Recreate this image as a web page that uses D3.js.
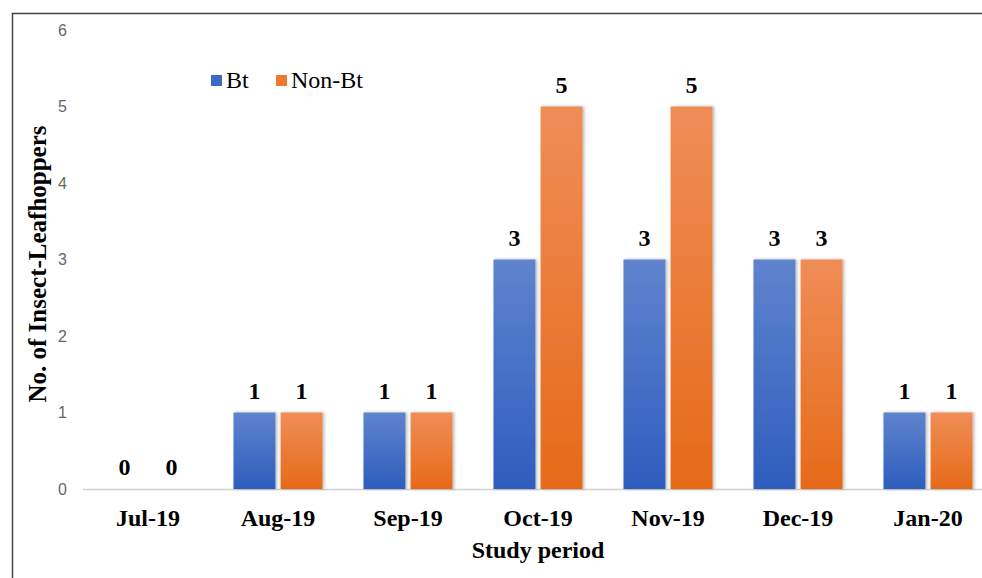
<!DOCTYPE html>
<html><head><meta charset="utf-8">
<script src="https://cdn.jsdelivr.net/npm/d3@7"></script>
<style>body{margin:0;background:#fff}svg{display:block}
.serif{font-family:"Liberation Serif","Times New Roman",serif}
.sans{font-family:"Liberation Sans",Arial,sans-serif}
</style>
</head><body>
<script>
const categories = ["Jul-19","Aug-19","Sep-19","Oct-19","Nov-19","Dec-19","Jan-20"];
const seriesNames = ["Bt","Non-Bt"];
const btValues = [0,1,1,3,3,3,1];
const nonBtValues = [0,1,1,5,5,3,1];
const yTicks = [0,1,2,3,4,5,6];

const W=982,H=578;
const svg=d3.select("body").append("svg").attr("width",W).attr("height",H);
const defs=svg.append("defs");
function grad(id,top,bot){
  const g=defs.append("linearGradient").attr("id",id).attr("x1",0).attr("y1",0).attr("x2",0).attr("y2",1);
  g.append("stop").attr("offset","0%").attr("stop-color",top);
  g.append("stop").attr("offset","100%").attr("stop-color",bot);
}
grad("gBt","#5f83cd","#2e5dbd");
grad("gNon","#f08d57","#e66a18");
const f=defs.append("filter").attr("id","sh").attr("x","-20%").attr("y","-20%").attr("width","150%").attr("height","150%");
f.append("feDropShadow").attr("dx",1.5).attr("dy",0).attr("stdDeviation",1.5).attr("flood-color","#000").attr("flood-opacity",0.3);

// frame
svg.append("path").attr("d","M12.5,600 V13.5 H990").attr("fill","none").attr("stroke","#444").attr("stroke-width",1.5);

const x=d3.scaleBand().domain(categories).range([83,993]).paddingInner(0).paddingOuter(0);
const y=d3.scaleLinear().domain([0,6]).range([489,30]);
const x1=d3.scaleBand().domain(seriesNames).range([0,89]).paddingInner(0.11);
const groupOffset=(x.bandwidth()-89)/2;

// y tick labels
svg.append("g").selectAll("text").data(yTicks).join("text").attr("class","sans")
  .attr("x",67).attr("y",d=>y(d)).attr("dy","0.35em").attr("text-anchor","end")
  .attr("font-size",16).attr("fill","#666")
  .text(d=>d);

// baseline
svg.append("line").attr("x1",83).attr("x2",993).attr("y1",y(0)+0.5).attr("y2",y(0)+0.5).attr("stroke","#d0d0d0").attr("stroke-width",1.5);

const data=categories.map((c,i)=>({c,vals:[{s:"Bt",v:btValues[i]},{s:"Non-Bt",v:nonBtValues[i]}]}));
const groups=svg.append("g").selectAll("g").data(data).join("g")
  .attr("transform",d=>`translate(${x(d.c)+groupOffset},0)`);
groups.selectAll("rect").data(d=>d.vals).join("rect")
  .attr("x",d=>x1(d.s)).attr("width",x1.bandwidth())
  .attr("y",d=>y(d.v)).attr("height",d=>y(0)-y(d.v))
  .attr("fill",d=>d.s==="Bt"?"url(#gBt)":"url(#gNon)")
  .attr("filter","url(#sh)");
groups.selectAll("text").data(d=>d.vals).join("text").attr("class","serif")
  .attr("x",d=>x1(d.s)+x1.bandwidth()/2).attr("y",d=>y(d.v)-14)
  .attr("text-anchor","middle")
  .attr("font-weight","bold").attr("font-size",24).attr("fill","#000").text(d=>d.v);

// x tick labels
svg.append("g").selectAll("text").data(categories).join("text").attr("class","serif")
  .attr("x",d=>x(d)+x.bandwidth()/2).attr("y",526).attr("text-anchor","middle")
  .attr("font-weight","bold")
  .attr("font-size",24).attr("fill","#000").text(d=>d);

// axis titles
svg.append("text").attr("class","serif").attr("x",538).attr("y",558).attr("text-anchor","middle")
  .attr("font-weight","bold")
  .attr("font-size",24).text("Study period");
svg.append("text").attr("class","serif").attr("transform","translate(46,264) rotate(-90)").attr("text-anchor","middle")
  .attr("font-weight","bold")
  .attr("font-size",25).text("No. of Insect-Leafhoppers");

// legend
const leg=svg.append("g");
const legItems=[{s:"Bt",x:211,fill:"#3d68c4"},{s:"Non-Bt",x:276,fill:"#ee7a30"}];
leg.selectAll("rect").data(legItems).join("rect").attr("x",d=>d.x).attr("y",75).attr("width",11).attr("height",11).attr("fill",d=>d.fill);
leg.selectAll("text").data(legItems).join("text").attr("class","serif").attr("x",d=>d.x+15).attr("y",88)
  .attr("font-size",24).attr("fill","#000").text(d=>d.s);
</script>
</body></html>
